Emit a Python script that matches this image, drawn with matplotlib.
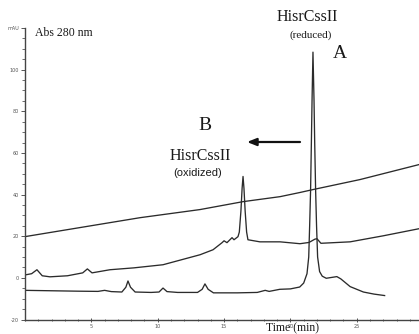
import matplotlib
matplotlib.use("Agg")
import matplotlib.pyplot as plt
from matplotlib.ticker import MultipleLocator, FixedLocator, FixedFormatter

# Retention time (min) and absorbance (mAU) samples of each trace
grad_t = [0, 8.67, 13.19, 16.43, 19.22, 20.72, 21.7, 25.24, 29.69]
grad_v = [19.8, 28.9, 32.8, 36.6, 39.0, 41.0, 42.4, 47.2, 54.4]

oxid_t = [0, 0.5, 0.9, 1.3, 1.88, 3.2, 4.35, 4.7, 5.05, 6.4, 8.2, 10.4,
          13.19, 14.17, 14.85, 15.0, 15.22, 15.6, 15.75, 16.05, 16.15,
          16.27, 16.36, 16.43, 16.5, 16.59, 16.7, 16.8, 17.7, 19.22,
          20.72, 21.4, 21.85, 22.0, 22.3, 24.5, 27.0, 29.69]
oxid_v = [1.4, 2.0, 3.9, 1.0, 0.5, 1.0, 2.4, 4.3, 2.4, 3.9, 4.8, 6.3,
          11.1, 13.5, 16.9, 17.8, 16.9, 19.3, 18.3, 19.8, 22.0,
          32.0, 43.0, 48.7, 43.0, 32.0, 22.0, 18.3, 17.3, 17.3,
          16.4, 17.0, 18.6, 18.8, 16.6, 17.3, 20.2, 23.6]

red_t = [0, 2, 4, 5.5, 6.0, 6.5, 7.3, 7.6, 7.76, 7.95, 8.3, 9.5, 10.1,
         10.4, 10.7, 11.5, 13.0, 13.35, 13.56, 13.8, 14.2, 16.0, 17.5,
         18.1, 18.4, 19.2, 20.0, 20.7, 21.0, 21.25, 21.38, 21.45, 21.52,
         21.58, 21.63, 21.7, 21.78, 21.83, 21.9, 21.97, 22.05, 22.2, 22.4,
         22.7, 23.2, 23.5, 23.8, 24.5, 25.5, 26.3, 27.1]
red_v = [-6.0, -6.2, -6.4, -6.5, -6.0, -6.6, -6.8, -4.5, -1.5, -4.5,
         -6.8, -7.0, -6.8, -4.9, -6.6, -7.0, -7.0, -5.5, -2.9, -5.5,
         -7.2, -7.2, -7.0, -6.0, -6.5, -5.5, -5.3, -4.4, -2.5, 2.0, 10.0,
         25.0, 42.0, 65.0, 85.0, 108.4, 85.0, 65.0, 42.0, 25.0, 10.0, 3.0,
         0.8, -0.2, 0.3, 0.6, -0.5, -4.2, -6.8, -7.8, -8.5]

x_ticks = [5, 10, 15, 20, 25]
x_labels = ["5", "10", "15", "20", "25"]
y_ticks = [-20, 0, 20, 40, 60, 80, 100, 120]
y_labels = ["-20", "0", "20", "40", "60", "80", "100", "mAU"]

W, H = 419, 334
fig = plt.figure(figsize=(W / 100, H / 100), dpi=100)
ax = fig.add_axes([25 / W, 14.5 / H, (W - 25) / W, (319.5 - 28) / H])

ink = "#2b2b2b"
for t, v in ((grad_t, grad_v), (oxid_t, oxid_v), (red_t, red_v)):
    ax.plot(t, v, color=ink, lw=0.95, solid_joinstyle="round")

ax.set_xlim(0, 29.69)
ax.set_ylim(-20, 120)
for s in ("top", "right"):
    ax.spines[s].set_visible(False)
for s in ("left", "bottom"):
    ax.spines[s].set_color("#444444")
    ax.spines[s].set_linewidth(1.0)

ax.xaxis.set_major_locator(FixedLocator(x_ticks))
ax.xaxis.set_major_formatter(FixedFormatter(x_labels))
ax.xaxis.set_minor_locator(MultipleLocator(1))
ax.yaxis.set_major_locator(FixedLocator(y_ticks))
ax.yaxis.set_major_formatter(FixedFormatter(y_labels))
ax.yaxis.set_minor_locator(MultipleLocator(5))
ax.tick_params(axis="both", which="major", labelsize=3.5, colors="#555555",
               length=3, width=0.7, pad=1.5)
ax.tick_params(axis="both", which="minor", colors="#555555", length=2,
               width=0.6)
ax.tick_params(axis="x", which="both", direction="inout")


def fx(px):
    return px / W


def fy(py):
    return 1 - py / H


serif = "Liberation Serif"
sans = "Liberation Sans"
tc = "#1a1a1a"
fig.text(fx(35), fy(32.5), "Abs 280 nm", family=serif, size=8.5, color=tc,
         ha="left", va="center")
fig.text(fx(307.5), fy(17), "HisrCssII", family=serif, size=11.5, color=tc,
         ha="center", va="center")
fig.text(fx(311), fy(35.5), "(reduced)", family=serif, size=8, color=tc,
         ha="center", va="center")
fig.text(fx(340), fy(53.5), "A", family=serif, size=14, color=tc,
         ha="center", va="center")
fig.text(fx(205), fy(125), "B", family=serif, size=14, color=tc,
         ha="center", va="center")
fig.text(fx(200.5), fy(156), "HisrCssII", family=serif, size=11.5, color=tc,
         ha="center", va="center")
fig.text(fx(198), fy(173), "(oxidized)", family=sans, size=8, color=tc,
         ha="center", va="center")
fig.text(fx(292), fy(328), "Time (min)", family=serif, size=8.5, color=tc,
         ha="center", va="center")

fig.patches.append(matplotlib.patches.FancyArrowPatch(
    (fx(300), fy(142)), (fx(247), fy(142)), transform=fig.transFigure,
    arrowstyle="-|>,head_length=5.5,head_width=2.2", color="#111111",
    lw=1.6, shrinkA=0, shrinkB=0))

fig.savefig("out.png", dpi=100)
